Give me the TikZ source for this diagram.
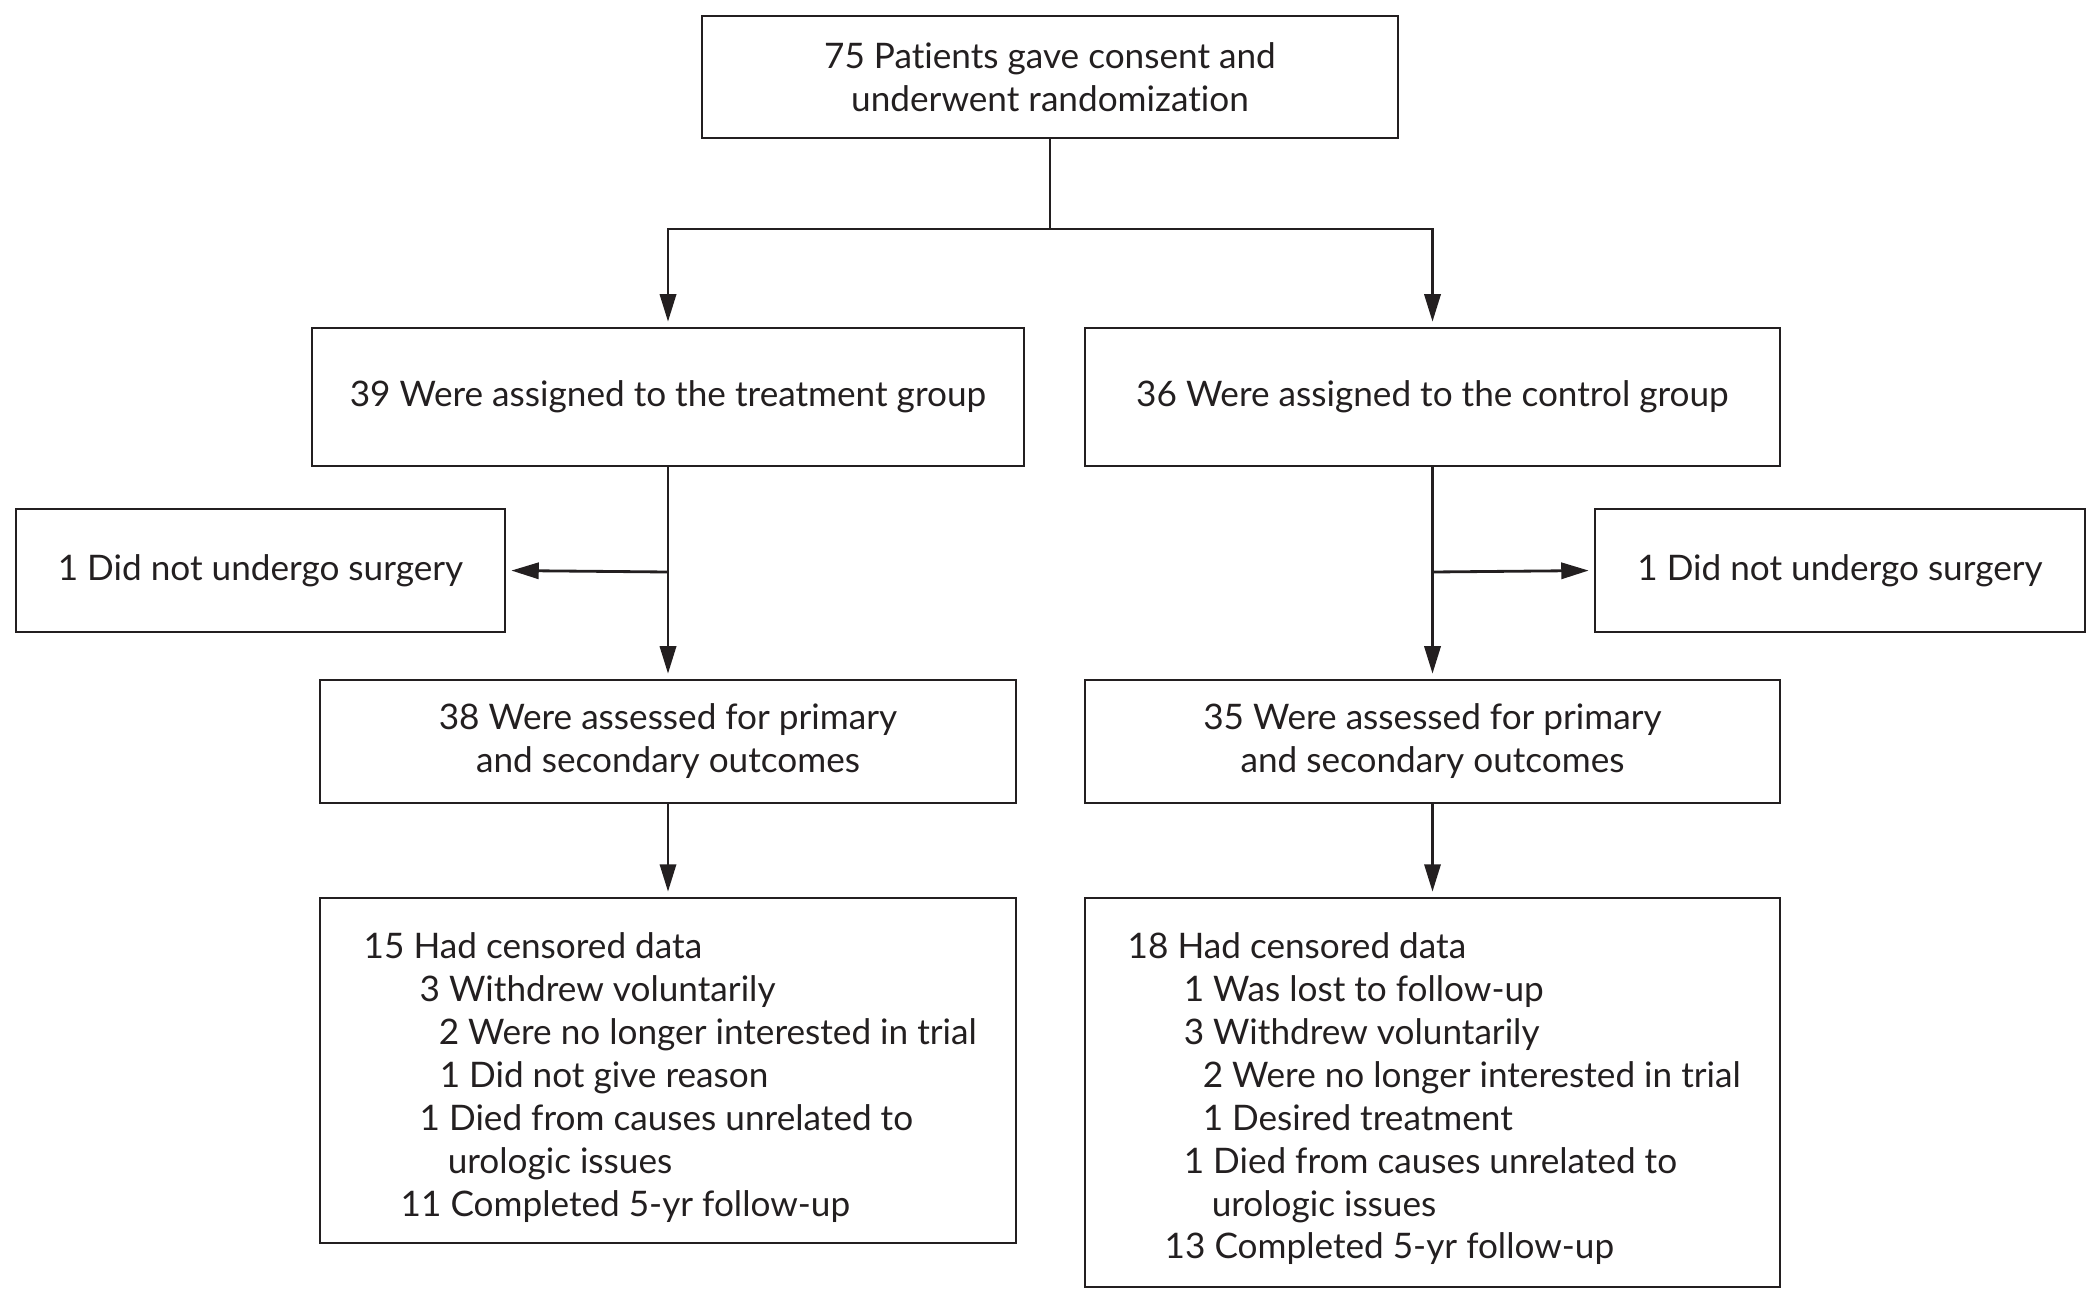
\documentclass[tikz,border=0pt]{standalone}
\usepackage{fontspec}
\setmainfont{Lato}[Ligatures=NoCommon]
\usetikzlibrary{arrows.meta}
\definecolor{ink}{HTML}{231F20}
\tikzset{
  box/.style={draw=ink, line width=0.8pt, rectangle, inner sep=0pt, align=center,
    font=\fontsize{10}{12.2}\selectfont, text=ink},
  listtext/.style={inner sep=0pt, align=left, anchor=north west,
    font=\fontsize{10}{12.2}\selectfont, text=ink},
  conn/.style={draw=ink, line width=0.8pt},
  arr/.style={conn, -{Triangle[length=7.8pt,width=4.6pt]}, shorten >=1.4pt}
}
\begin{document}
\begin{tikzpicture}[x=0.01cm,y=-0.01cm]
\useasboundingbox (0,0) rectangle (2100,1303);
% boxes
\node[box, minimum width=696*0.01cm, minimum height=122*0.01cm] (top) at (1050,77)
  {75 Patients gave consent and\\underwent randomization};
\node[box, minimum width=712*0.01cm, minimum height=138*0.01cm] (treat) at (668,397)
  {39 Were assigned to the treatment group};
\node[box, minimum width=695*0.01cm, minimum height=138*0.01cm] (ctrl) at (1432.5,397)
  {36 Were assigned to the control group};
\node[box, minimum width=489*0.01cm, minimum height=123*0.01cm] (sideL) at (260.5,570.5)
  {1 Did not undergo surgery};
\node[box, minimum width=490*0.01cm, minimum height=123*0.01cm] (sideR) at (1840,570.5)
  {1 Did not undergo surgery};
\node[box, minimum width=696*0.01cm, minimum height=123*0.01cm] (assL) at (668,741.5)
  {38 Were assessed for primary\\and secondary outcomes};
\node[box, minimum width=695*0.01cm, minimum height=123*0.01cm] (assR) at (1432.5,741.5)
  {35 Were assessed for primary\\and secondary outcomes};
\node[box, minimum width=696*0.01cm, minimum height=345*0.01cm] (botL) at (668,1070.5) {};
\node[box, minimum width=695*0.01cm, minimum height=389*0.01cm] (botR) at (1432.5,1092.5) {};
% list texts
\node[listtext] (listL) at (363,932) {%
15 Had censored data\\
\hspace*{0.56cm}3 Withdrew voluntarily\\
\hspace*{0.75cm}2 Were no longer interested in trial\\
\hspace*{0.76cm}1 Did not give reason\\
\hspace*{0.56cm}1 Died from causes unrelated to\\
\hspace*{0.84cm}urologic issues\\
\hspace*{0.37cm}11 Completed 5-yr follow-up};
\node[listtext] (listR) at (1127,932) {%
18 Had censored data\\
\hspace*{0.56cm}1 Was lost to follow-up\\
\hspace*{0.56cm}3 Withdrew voluntarily\\
\hspace*{0.75cm}2 Were no longer interested in trial\\
\hspace*{0.75cm}1 Desired treatment\\
\hspace*{0.56cm}1 Died from causes unrelated to\\
\hspace*{0.84cm}urologic issues\\
\hspace*{0.37cm}13 Completed 5-yr follow-up};
% connectors
\coordinate (split) at (1050,229);
\coordinate (brL) at (668,572);
\coordinate (brR) at (1432.5,572);
\draw[conn] (top.south) -- (split);
\draw[arr] (split) -| (treat.north);
\draw[arr] (split) -| (ctrl.north);
\draw[arr] (treat.south) -- (assL.north);
\draw[arr] (ctrl.south) -- (assR.north);
\draw[arr] (brL) -- (sideL.east);
\draw[arr] (brR) -- (sideR.west);
\draw[arr] (assL.south) -- (botL.north);
\draw[arr] (assR.south) -- (botR.north);
\end{tikzpicture}
\end{document}
